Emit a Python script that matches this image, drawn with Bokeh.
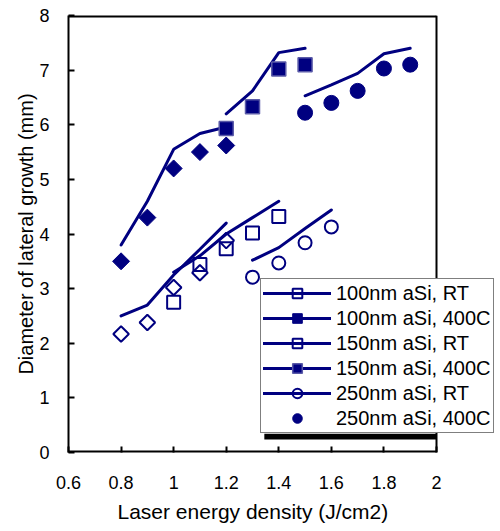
import math
from bokeh.plotting import figure
from bokeh.models import (FixedTicker, NumeralTickFormatter, Legend, LegendItem,
                          Title, BoxAnnotation, Range1d)
from bokeh.embed import file_html
from bokeh.resources import INLINE

# ---- data ----
x_ticks = [0.6, 0.8, 1.0, 1.2, 1.4, 1.6, 1.8, 2.0]
y_ticks = [0, 1, 2, 3, 4, 5, 6, 7, 8]

labels = ["100nm aSi, RT", "100nm aSi, 400C", "150nm aSi, RT",
          "150nm aSi, 400C", "250nm aSi, RT", "250nm aSi, 400C"]

# measured points
x100 = [0.8, 0.9, 1.0, 1.1, 1.2]
y100_rt = [2.17, 2.38, 3.02, 3.29, 3.88]
y100_400 = [3.50, 4.30, 5.20, 5.50, 5.62]
x150_rt = [1.0, 1.1, 1.2, 1.3, 1.4]
y150_rt = [2.75, 3.44, 3.73, 4.02, 4.32]
x150_400 = [1.2, 1.3, 1.4, 1.5]
y150_400 = [5.93, 6.33, 7.02, 7.10]
x250_rt = [1.3, 1.4, 1.5, 1.6]
y250_rt = [3.21, 3.47, 3.84, 4.13]
x250_400 = [1.5, 1.6, 1.7, 1.8, 1.9]
y250_400 = [6.22, 6.40, 6.62, 7.03, 7.10]

# model curves
mx100 = [0.8, 0.9, 1.0, 1.1, 1.2]
my100_rt = [2.50, 2.70, 3.25, 3.72, 4.20]
my100_400 = [3.80, 4.60, 5.55, 5.84, 5.96]
mx150_rt = [1.0, 1.1, 1.2, 1.3, 1.4]
my150_rt = [3.30, 3.60, 4.00, 4.30, 4.60]
mx150_400 = [1.2, 1.3, 1.4, 1.5]
my150_400 = [6.20, 6.62, 7.32, 7.40]
mx250_rt = [1.3, 1.4, 1.5, 1.6]
my250_rt = [3.52, 3.75, 4.10, 4.44]
mx250_400 = [1.5, 1.6, 1.7, 1.8, 1.9]
my250_400 = [6.53, 6.73, 6.94, 7.30, 7.40]

NAVY = "#000080"
FONT = "Liberation Sans"

# layout: the axes box spans 0.6..2.0 over 368 px; the frame is widened to the
# right so that the legend (which overhangs the box) is not clipped
BOX_W = 368
PX_PER_UNIT = BOX_W / (x_ticks[-1] - x_ticks[0])
EXTRA_W = 60
x_end = x_ticks[-1] + EXTRA_W / PX_PER_UNIT

p = figure(frame_width=BOX_W + EXTRA_W, frame_height=437,
           min_border_left=68, min_border_right=1, min_border_top=15, min_border_bottom=60,
           x_range=Range1d(x_ticks[0], x_end), y_range=Range1d(y_ticks[0], y_ticks[-1]),
           output_backend="svg", toolbar_location=None)
p.grid.visible = False
p.outline_line_color = None
p.background_fill_color = "white"
p.border_fill_color = "white"

for ax in (p.xaxis[0], p.yaxis[0]):
    ax.axis_line_width = 2
    ax.axis_line_color = "black"
    ax.major_tick_in = 6
    ax.major_tick_out = 0
    ax.major_tick_line_width = 2
    ax.minor_tick_line_color = None
    ax.major_label_text_font = FONT
    ax.major_label_text_font_size = "18px"
    ax.major_label_text_color = "black"
p.xaxis.axis_line_color = None

p.xaxis.ticker = FixedTicker(ticks=x_ticks)
p.yaxis.ticker = FixedTicker(ticks=y_ticks)
p.xaxis.formatter = NumeralTickFormatter(format="0.[0]")
p.yaxis.formatter = NumeralTickFormatter(format="0")
p.xaxis.major_label_standoff = 23
p.yaxis.major_label_standoff = 19

# box edges (bottom, top, right) limited to the axes range
p.segment(x0=[x_ticks[0], x_ticks[0], x_ticks[-1]],
          y0=[y_ticks[0], y_ticks[-1], y_ticks[0]],
          x1=[x_ticks[-1], x_ticks[-1], x_ticks[-1]],
          y1=[y_ticks[0], y_ticks[-1], y_ticks[-1]],
          line_color="black", line_width=[4, 4, 2])

xtitle = Title(text="Laser energy density (J/cm2)", align="left", offset=49,
               standoff=13, text_font=FONT, text_font_size="21px",
               text_font_style="normal", text_color="black")
p.add_layout(xtitle, "below")

ytitle = Title(text="Diameter of lateral growth (mm)", align="center", offset=28,
               standoff=0, text_font=FONT, text_font_size="20px",
               text_font_style="normal", text_color="black")
p.add_layout(ytitle, "left")

# lines
lw = 3
l100rt = p.line(mx100, my100_rt, color=NAVY, line_width=lw, line_cap="round")
l100hi = p.line(mx100, my100_400, color=NAVY, line_width=lw, line_cap="round")
l150rt = p.line(mx150_rt, my150_rt, color=NAVY, line_width=lw, line_cap="round")
l150hi = p.line(mx150_400, my150_400, color=NAVY, line_width=lw, line_cap="round")
l250rt = p.line(mx250_rt, my250_rt, color=NAVY, line_width=lw, line_cap="round")
l250hi = p.line(mx250_400, my250_400, color=NAVY, line_width=lw, line_cap="round")

# markers
s100rt = p.scatter(x100, y100_rt, marker="square", angle=math.pi / 4, size=11,
                   fill_color=None, line_color=NAVY, line_width=2)
s100hi = p.scatter(x100, y100_400, marker="square", angle=math.pi / 4, size=12,
                   fill_color=NAVY, line_color=NAVY, line_width=1)
s150rt = p.scatter(x150_rt, y150_rt, marker="square", size=13,
                   fill_color=None, line_color=NAVY, line_width=2)
s150hi = p.scatter(x150_400, y150_400, marker="square", size=14,
                   fill_color=NAVY, line_color="#5a5aa8", line_width=1.5)
s250rt = p.scatter(x250_rt, y250_rt, marker="circle", size=13,
                   fill_color=None, line_color=NAVY, line_width=2)
s250hi = p.scatter(x250_400, y250_400, marker="circle", size=15,
                   fill_color=NAVY, line_color=NAVY, line_width=1)

# legend shadow (decoration), visible only inside the axes box
shadow = BoxAnnotation(left=1.345, right=x_ticks[-1], bottom=0.24, top=0.345,
                       fill_color="black", fill_alpha=1.0, line_color=None)
p.add_layout(shadow)

items = [
    LegendItem(label=labels[0], renderers=[l100rt, s100rt]),
    LegendItem(label=labels[1], renderers=[l100hi, s100hi]),
    LegendItem(label=labels[2], renderers=[l150rt, s150rt]),
    LegendItem(label=labels[3], renderers=[l150hi, s150hi]),
    LegendItem(label=labels[4], renderers=[l250rt, s250rt]),
    LegendItem(label=labels[5], renderers=[s250hi]),
]
legend = Legend(items=items, location=(192, 19), margin=0, padding=2, spacing=1,
                glyph_height=24, glyph_width=68, label_height=24, label_standoff=5,
                label_text_font=FONT, label_text_font_size="20px",
                label_text_color="black",
                border_line_color="black", border_line_width=1,
                background_fill_color="white", background_fill_alpha=1.0)
p.add_layout(legend, "center")

open("out.html", "w").write(file_html(p, INLINE))
